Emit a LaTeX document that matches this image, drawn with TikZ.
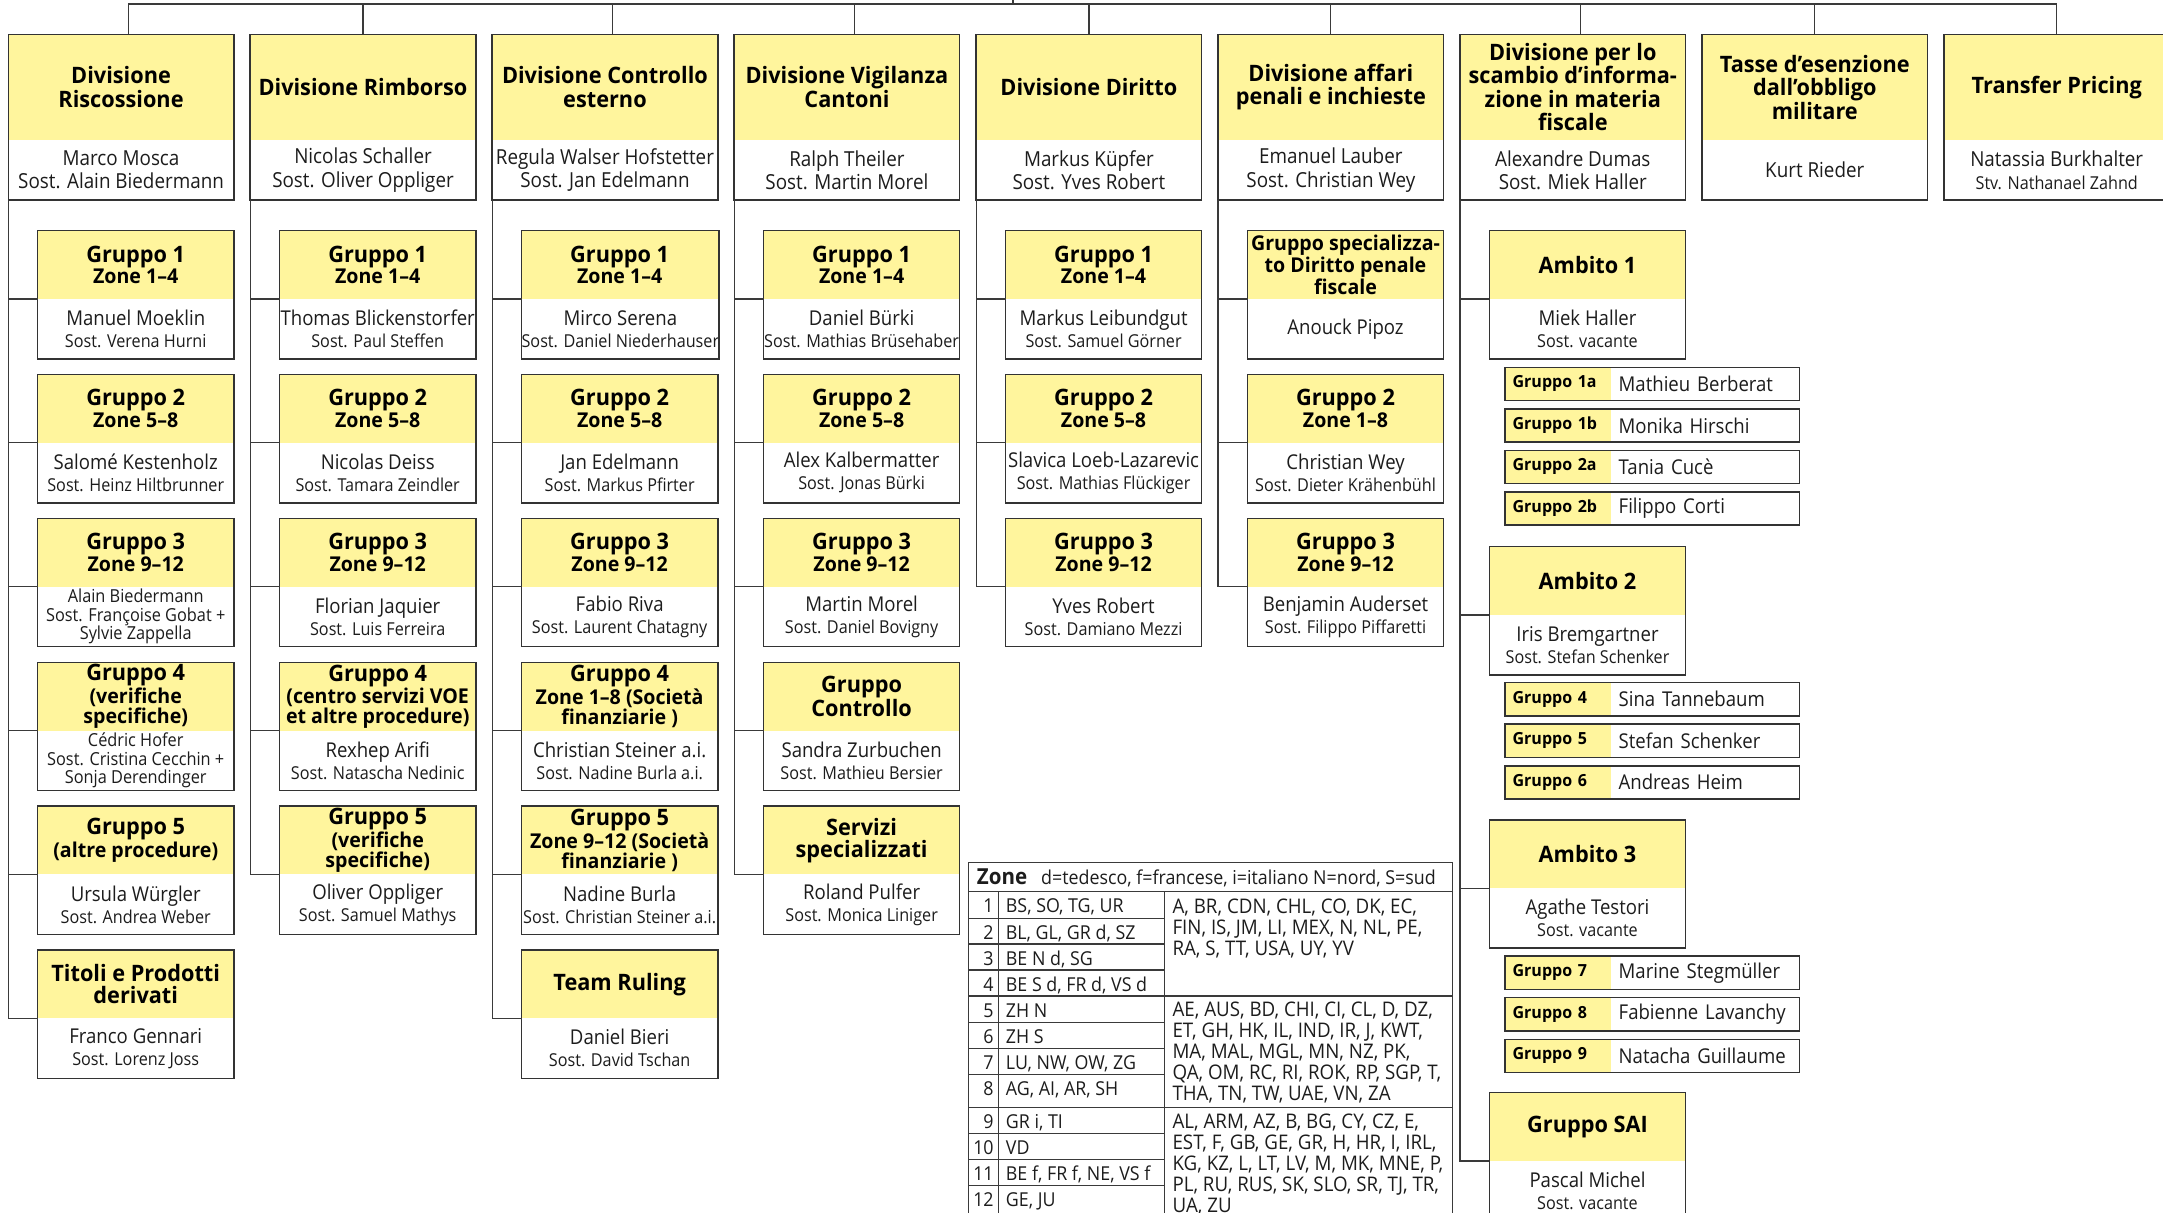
\documentclass[tikz,border=0pt]{standalone}
\usepackage{fontspec}
\setmainfont{Open Sans}
\newfontfamily\nameF{Open Sans}[FakeStretch=0.91]
\newfontfamily\titleF{Open Sans}[FakeStretch=0.96]
\newfontfamily\tabF{Open Sans}[FakeStretch=0.93]
\definecolor{boxyellow}{HTML}{FFF59D}
\definecolor{framec}{HTML}{333333}
\definecolor{linec}{HTML}{3A3A3A}
\definecolor{tabc}{HTML}{3A3A3A}
\definecolor{namec}{HTML}{1C1C1C}
\newcommand\fTitle{\titleF\bfseries\fontsize{16.4}{17}\selectfont}
\newcommand\fGA{\titleF\bfseries\fontsize{16.4}{14.5}\selectfont}
\newcommand\fGB{\titleF\bfseries\fontsize{14.8}{14.5}\selectfont}
\newcommand\fGT{\titleF\bfseries\fontsize{16.4}{16}\selectfont}
\newcommand\fDN{\nameF\fontsize{15}{17}\selectfont}
\newcommand\fNA{\nameF\fontsize{14.8}{16}\selectfont}
\newcommand\fNB{\nameF\fontsize{12.9}{16}\selectfont}
\newcommand\fNS{\nameF\fontsize{13}{13.5}\selectfont}
\newcommand\fSL{\titleF\bfseries\fontsize{12.1}{14}\selectfont}
\newcommand\fSP{\nameF\fontsize{14.8}{16}\selectfont}
\newcommand\fTab{\tabF\fontsize{13.9}{15.2}\selectfont}
\newcommand\fTabC{\tabF\fontsize{14.6}{15.2}\selectfont}
\newcommand\fTabB{\tabF\bfseries\fontsize{16}{17}\selectfont}
\tikzset{
 boxbase/.style={rectangle, inner sep=0pt, outer sep=0pt, anchor=north west, align=center, text=black},
 divt/.style={boxbase, fill=boxyellow, minimum width=163.5pt, minimum height=76.6pt, font=\fTitle},
 divn/.style={boxbase, fill=white, minimum width=163.5pt, minimum height=43.5pt, font=\fDN, text=namec},
 grpt/.style={boxbase, fill=boxyellow, minimum width=142.2pt, minimum height=49.5pt, font=\fGB},
 grpn/.style={boxbase, fill=white, minimum width=142.2pt, minimum height=43.5pt, font=\fNB, text=namec},
 smallthree/.style={font=\fNS},
 bigtitle/.style={font=\fGT},
 sgl/.style={rectangle, anchor=north west, fill=boxyellow, inner xsep=5.5pt, inner ysep=0pt, outer sep=0pt, minimum height=24pt, text width=65.8pt, align=left, font=\fSL},
 sgp/.style={rectangle, anchor=north west, fill=white, inner xsep=5.6pt, inner ysep=0pt, outer sep=0pt, minimum height=24pt, text width=125.3pt, align=left, font=\fSP, text=namec},
 boxframe/.style={draw=framec, line width=1.1pt},
 conn/.style={draw=linec, line width=0.9pt},
 tline/.style={draw=tabc, line width=0.9pt},
 tabtxt/.style={inner sep=0pt, anchor=base west, font=\fTab, text=namec},
}
\newcommand\divbox[4]{%
 \node[divt] (#1t) at (#2,24.9) {#3};
 \node[divn] (#1n) at (#1t.south west) {#4};
 \draw[boxframe] (#1t.north west) rectangle (#1n.south east);}
\newcommand\grpbox[7]{%
 \node[grpt,#4] (#1t) at (#2,#3) {#5};
 \node[grpn,#6] (#1n) at (#1t.south west) {#7};
 \draw[boxframe] (#1t.north west) rectangle (#1n.south east);}
\newcommand\sgbox[4]{%
 \node[sgl] (#1l) at (1091,#2) {#3};
 \node[sgp] (#1p) at (#1l.north east) {#4};
 \draw[boxframe] (#1l.north west) rectangle (#1p.south east);}
\begin{document}
\begin{tikzpicture}[x=1pt,y=-1pt]
\useasboundingbox (0,0) rectangle (1568,879.3);
\clip (0,0) rectangle (1568,879.3);
% ---------------- divisions
\divbox{d1}{6}{Divisione\\Riscossione}{Marco Mosca\\Sost. Alain Biedermann}
\divbox{d2}{181.4}{Divisione Rimborso}{Nicolas Schaller\\Sost. Oliver Oppliger}
\divbox{d3}{356.8}{Divisione Controllo\\esterno}{Regula Walser Hofstetter\\Sost. Jan Edelmann}
\divbox{d4}{532.2}{Divisione Vigilanza\\Cantoni}{Ralph Theiler\\Sost. Martin Morel}
\divbox{d5}{707.6}{Divisione Diritto}{Markus Küpfer\\Sost. Yves Robert}
\divbox{d6}{883}{Divisione affari\\penali e inchieste}{Emanuel Lauber\\Sost. Christian Wey}
\divbox{d7}{1058.4}{Divisione per lo\\scambio d’informa-\\zione in materia\\fiscale}{Alexandre Dumas\\Sost. Miek Haller}
\divbox{d8}{1233.8}{Tasse d’esenzione\\dall’obbligo\\militare}{Kurt Rieder}
\divbox{d9}{1409.2}{Transfer Pricing}{Natassia Burkhalter\\{\fNB Stv. Nathanael Zahnd}}
% ---------------- top bar
\coordinate (bar) at (734.4,2.9);
\coordinate (root) at (734.4,-3);
\draw[conn] (bar) -- (root);
\draw[conn] ([xshift=5.3pt]d1t.north) |- (bar);
\draw[conn] (d2t.north) |- (bar);
\draw[conn] ([xshift=5.3pt]d3t.north) |- (bar);
\draw[conn] ([xshift=5.3pt]d4t.north) |- (bar);
\draw[conn] (d5t.north) |- (bar);
\draw[conn] (d6t.north) |- (bar);
\draw[conn] ([xshift=5.6pt]d7t.north) |- (bar);
\draw[conn] (d8t.north) |- (bar);
\draw[conn] (d9t.north) |- (bar);
% ---------------- column 1
\grpbox{g11}{27.3}{167.2}{}{{\fGA Gruppo 1}\\Zone 1–4}{}{{\fNA Manuel Moeklin}\\Sost. Verena Hurni}
\grpbox{g12}{27.3}{271.5}{}{{\fGA Gruppo 2}\\Zone 5–8}{}{{\fNA Salomé Kestenholz}\\Sost. Heinz Hiltbrunner}
\grpbox{g13}{27.3}{375.8}{}{{\fGA Gruppo 3}\\Zone 9–12}{smallthree}{Alain Biedermann\\Sost. Françoise Gobat +\\Sylvie Zappella}
\grpbox{g14}{27.3}{480.1}{}{{\fGA Gruppo 4}\\(verifiche\\specifiche)}{smallthree}{Cédric Hofer\\Sost. Cristina Cecchin +\\Sonja Derendinger}
\grpbox{g15}{27.3}{584.4}{}{{\fGA Gruppo 5}\\(altre procedure)}{}{{\fNA Ursula Würgler}\\Sost. Andrea Weber}
\grpbox{g16}{27.3}{688.7}{bigtitle}{Titoli e Prodotti\\derivati}{}{{\fNA Franco Gennari}\\Sost. Lorenz Joss}
% ---------------- column 2
\grpbox{g21}{202.7}{167.2}{}{{\fGA Gruppo 1}\\Zone 1–4}{}{{\fNA Thomas Blickenstorfer}\\Sost. Paul Steffen}
\grpbox{g22}{202.7}{271.5}{}{{\fGA Gruppo 2}\\Zone 5–8}{}{{\fNA Nicolas Deiss}\\Sost. Tamara Zeindler}
\grpbox{g23}{202.7}{375.8}{}{{\fGA Gruppo 3}\\Zone 9–12}{}{{\fNA Florian Jaquier}\\Sost. Luis Ferreira}
\grpbox{g24}{202.7}{480.1}{}{{\fGA Gruppo 4}\\(centro servizi VOE\\et altre procedure)}{}{{\fNA Rexhep Arifi}\\Sost. Natascha Nedinic}
\grpbox{g25}{202.7}{584.4}{}{{\fGA Gruppo 5}\\(verifiche\\specifiche)}{}{{\fNA Oliver Oppliger}\\Sost. Samuel Mathys}
% ---------------- column 3
\grpbox{g31}{378.1}{167.2}{}{{\fGA Gruppo 1}\\Zone 1–4}{}{{\fNA Mirco Serena}\\Sost. Daniel Niederhauser}
\grpbox{g32}{378.1}{271.5}{}{{\fGA Gruppo 2}\\Zone 5–8}{}{{\fNA Jan Edelmann}\\Sost. Markus Pfirter}
\grpbox{g33}{378.1}{375.8}{}{{\fGA Gruppo 3}\\Zone 9–12}{}{{\fNA Fabio Riva}\\Sost. Laurent Chatagny}
\grpbox{g34}{378.1}{480.1}{}{{\fGA Gruppo 4}\\Zone 1–8 (Società\\finanziarie )}{}{{\fNA Christian Steiner a.i.}\\Sost. Nadine Burla a.i.}
\grpbox{g35}{378.1}{584.4}{}{{\fGA Gruppo 5}\\Zone 9–12 (Società\\finanziarie )}{}{{\fNA Nadine Burla}\\Sost. Christian Steiner a.i.}
\grpbox{g36}{378.1}{688.7}{bigtitle}{Team Ruling}{}{{\fNA Daniel Bieri}\\Sost. David Tschan}
% ---------------- column 4
\grpbox{g41}{553.5}{167.2}{}{{\fGA Gruppo 1}\\Zone 1–4}{}{{\fNA Daniel Bürki}\\Sost. Mathias Brüsehaber}
\grpbox{g42}{553.5}{271.5}{}{{\fGA Gruppo 2}\\Zone 5–8}{}{{\fNA Alex Kalbermatter}\\Sost. Jonas Bürki}
\grpbox{g43}{553.5}{375.8}{}{{\fGA Gruppo 3}\\Zone 9–12}{}{{\fNA Martin Morel}\\Sost. Daniel Bovigny}
\grpbox{g44}{553.5}{480.1}{bigtitle}{Gruppo\\Controllo}{}{{\fNA Sandra Zurbuchen}\\Sost. Mathieu Bersier}
\grpbox{g45}{553.5}{584.4}{bigtitle}{Servizi\\specializzati}{}{{\fNA Roland Pulfer}\\Sost. Monica Liniger}
% ---------------- column 5
\grpbox{g51}{728.9}{167.2}{}{{\fGA Gruppo 1}\\Zone 1–4}{}{{\fNA Markus Leibundgut}\\Sost. Samuel Görner}
\grpbox{g52}{728.9}{271.5}{}{{\fGA Gruppo 2}\\Zone 5–8}{}{{\fNA Slavica Loeb-Lazarevic}\\Sost. Mathias Flückiger}
\grpbox{g53}{728.9}{375.8}{}{{\fGA Gruppo 3}\\Zone 9–12}{}{{\fNA Yves Robert}\\Sost. Damiano Mezzi}
% ---------------- column 6
\grpbox{g61}{904.3}{167.2}{}{Gruppo specializza-\\to Diritto penale\\fiscale}{}{{\fNA Anouck Pipoz}}
\grpbox{g62}{904.3}{271.5}{}{{\fGA Gruppo 2}\\Zone 1–8}{}{{\fNA Christian Wey}\\Sost. Dieter Krähenbühl}
\grpbox{g63}{904.3}{375.8}{}{{\fGA Gruppo 3}\\Zone 9–12}{}{{\fNA Benjamin Auderset}\\Sost. Filippo Piffaretti}
% ---------------- column 7
\grpbox{a1}{1079.7}{167.2}{bigtitle}{Ambito 1}{}{{\fNA Miek Haller}\\Sost. vacante}
\grpbox{a2}{1079.7}{396.3}{bigtitle}{Ambito 2}{}{{\fNA Iris Bremgartner}\\Sost. Stefan Schenker}
\grpbox{a3}{1079.7}{594.4}{bigtitle}{Ambito 3}{}{{\fNA Agathe Testori}\\Sost. vacante}
\grpbox{sai}{1079.7}{792.1}{bigtitle}{Gruppo SAI}{}{{\fNA Pascal Michel}\\Sost. vacante}
\sgbox{s1a}{266.3}{Gruppo 1a}{Mathieu Berberat}
\sgbox{s1b}{296.4}{Gruppo 1b}{Monika Hirschi}
\sgbox{s2a}{326.5}{Gruppo 2a}{Tania Cucè}
\sgbox{s2b}{356.7}{Gruppo 2b}{Filippo Corti}
\sgbox{s4}{494.9}{Gruppo 4}{Sina Tannebaum}
\sgbox{s5}{525.0}{Gruppo 5}{Stefan Schenker}
\sgbox{s6}{555.1}{Gruppo 6}{Andreas Heim}
\sgbox{s7}{693.2}{Gruppo 7}{Marine Stegmüller}
\sgbox{s8}{723.2}{Gruppo 8}{Fabienne Lavanchy}
\sgbox{s9}{753.4}{Gruppo 9}{Natacha Guillaume}
% ---------------- connectors
\foreach \g in {g11,g12,g13,g14,g15,g16} \draw[conn] (d1n.south west) |- (\g t.south west);
\foreach \g in {g21,g22,g23,g24,g25} \draw[conn] (d2n.south west) |- (\g t.south west);
\foreach \g in {g31,g32,g33,g34,g35,g36} \draw[conn] (d3n.south west) |- (\g t.south west);
\foreach \g in {g41,g42,g43,g44,g45} \draw[conn] (d4n.south west) |- (\g t.south west);
\foreach \g in {g51,g52,g53} \draw[conn] (d5n.south west) |- (\g t.south west);
\foreach \g in {g61,g62,g63} \draw[conn] (d6n.south west) |- (\g t.south west);
\foreach \g in {a1,a2,a3,sai} \draw[conn] (d7n.south west) |- (\g t.south west);
% ---------------- zone table
\draw[tline, line width=1.1pt] (702,625.3) rectangle (1052.8,895);
\draw[tline] (702,646.4) -- (1052.8,646.4);
\draw[tline] (723.7,646.4) -- (723.7,895);
\draw[tline] (844,646.4) -- (844,895);
\foreach \yy in {665.7,684.3,703.2,741.1,759.9,778.8,821.8,840.4,859.5} \draw[tline] (702,\yy) -- (844,\yy);
\foreach \yy in {722.0,802.7} \draw[tline] (702,\yy) -- (1052.8,\yy);
\node[tabtxt,font=\fTabB] (zh) at (708,641.5) {Zone};
\node[tabtxt] (zd) at (754.6,641.5) {d=tedesco, f=francese, i=italiano N=nord, S=sud};
\foreach \n/\yy/\t in {1/661.7/{BS, SO, TG, UR}, 2/681/{BL, GL, GR d, SZ}, 3/699.6/{BE N d, SG}, 4/718.5/{BE S d, FR d, VS d}, 5/737.3/{ZH N}, 6/756.4/{ZH S}, 7/775.2/{LU, NW, OW, ZG}, 8/794.1/{AG, AI, AR, SH}, 9/818/{GR i, TI}, 10/837.1/{VD}, 11/855.7/{BE f, FR f, NE, VS f}, 12/874.8/{GE, JU}} {
 \node[tabtxt,anchor=base east] (n\n) at (720.5,\yy) {\n};
 \node[tabtxt] (k\n) at (729,\yy) {\t};
}
\foreach \i/\yy/\t in {1/662/{A, BR, CDN, CHL, CO, DK, EC,}, 2/677.2/{FIN, IS, JM, LI, MEX, N, NL, PE,}, 3/692.5/{RA, S, TT, USA, UY, YV}, 4/737/{AE, AUS, BD, CHI, CI, CL, D, DZ,}, 5/752.2/{ET, GH, HK, IL, IND, IR, J, KWT,}, 6/767.5/{MA, MAL, MGL, MN, NZ, PK,}, 7/782.8/{QA, OM, RC, RI, ROK, RP, SGP, T,}, 8/798/{THA, TN, TW, UAE, VN, ZA}, 9/817.9/{AL, ARM, AZ, B, BG, CY, CZ, E,}, 10/833.1/{EST, F, GB, GE, GR, H, HR, I, IRL,}, 11/848.3/{KG, KZ, L, LT, LV, M, MK, MNE, P,}, 12/863.5/{PL, RU, RUS, SK, SLO, SR, TJ, TR,}, 13/878.7/{UA, ZU}}
 \node[tabtxt,font=\fTabC] (l\i) at (849.8,\yy) {\t};
\end{tikzpicture}
\end{document}
